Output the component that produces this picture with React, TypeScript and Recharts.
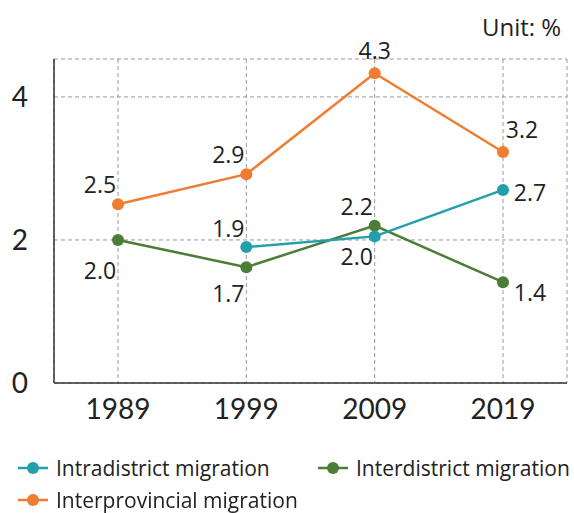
import { LineChart, Line, XAxis, YAxis, CartesianGrid, LabelList } from "recharts";

const years = ["1989", "1999", "2009", "2019"];

// values
const intradistrict = [null, 1.9, 2.05, 2.7];
const interdistrict = [2.0, 1.62, 2.2, 1.41];
const interprovincial = [2.5, 2.92, 4.33, 3.23];

// printed labels
const intraLabels = ["", "1.9", "2.0", "2.7"];
const interLabels = ["2.0", "1.7", "2.2", "1.4"];
const provLabels = ["2.5", "2.9", "4.3", "3.2"];

const yTicks = [0, 2, 4];

const TEAL = "#22a0a9";
const GREEN = "#4c7d36";
const ORANGE = "#ef7d31";
const FONT = "Lato, 'Open Sans', sans-serif";
const TEXT_FONT = "'Open Sans', sans-serif";

const data = years.map((year, i) => ({
  year,
  intra: intradistrict[i],
  inter: interdistrict[i],
  prov: interprovincial[i],
}));

// label offsets relative to each point (text centre)
const intraOffsets = [[0, 0], [-18, -19], [-18, 20], [27, 2]];
const interOffsets = [[-18, 30], [-18, 26], [-18, -20], [27, 10]];
const provOffsets = [[-18, -20], [-18, -20], [0, -23], [19, -23]];

function makeLabel(labels: string[], offsets: number[][]) {
  return (props: any) => {
    const { x, y, index } = props;
    const text = labels[index];
    if (!text) return null;
    const [dx, dy] = offsets[index];
    return (
      <text
        x={x + dx}
        y={y + dy}
        textAnchor="middle"
        dominantBaseline="central"
        fontSize={23}
        fontFamily={TEXT_FONT}
        fill="#222"
      >
        {text}
      </text>
    );
  };
}

function LegendItem({ color, label, left, top }: { color: string; label: string; left: number; top: number }) {
  return (
    <div style={{ position: "absolute", left, top, display: "flex", alignItems: "center", height: 24 }}>
      <svg width={32} height={14} style={{ marginRight: 7 }}>
        <line x1={1} y1={7} x2={31} y2={7} stroke={color} strokeWidth={2.5} />
        <circle cx={16} cy={7} r={6} fill={color} />
      </svg>
      <span style={{ fontFamily: TEXT_FONT, fontSize: 21, color: "#222", whiteSpace: "nowrap", lineHeight: "24px" }}>
        {label}
      </span>
    </div>
  );
}

export default function App() {
  return (
    <div style={{ position: "fixed", left: 0, top: 0, width: 574, height: 513, background: "#fff" }}>
      <div
        style={{
          position: "absolute",
          left: 482,
          top: 12,
          fontFamily: TEXT_FONT,
          fontSize: 24,
          lineHeight: "30px",
          color: "#222",
          whiteSpace: "nowrap",
        }}
      >
        Unit: %
      </div>
      <div style={{ position: "absolute", left: 0, top: 0 }}>
        <LineChart
          width={574}
          height={430}
          data={data}
          margin={{ top: 59, right: 7, left: 0, bottom: 0 }}
        >
          <CartesianGrid stroke="#999" strokeDasharray="4 3" strokeWidth={1} />
          <XAxis
            dataKey="year"
            padding={{ left: 64, right: 64 }}
            axisLine={{ stroke: "#333", strokeWidth: 1.5 }}
            tickLine={false}
            tick={{ fill: "#222", fontSize: 28, fontFamily: FONT }}
            tickMargin={10}
            height={47}
          />
          <YAxis
            domain={[0, 4.53]}
            ticks={yTicks}
            axisLine={{ stroke: "#333", strokeWidth: 1.5 }}
            tickLine={false}
            tick={{ fill: "#222", fontSize: 28, fontFamily: FONT }}
            tickMargin={20}
            width={54}
          />
          <Line
            dataKey="inter"
            stroke={GREEN}
            strokeWidth={2.5}
            dot={{ r: 6, fill: GREEN, stroke: "none" }}
            isAnimationActive={false}
          >
            <LabelList dataKey="inter" content={makeLabel(interLabels, interOffsets)} />
          </Line>
          <Line
            dataKey="intra"
            stroke={TEAL}
            strokeWidth={2.5}
            dot={{ r: 6, fill: TEAL, stroke: "none" }}
            isAnimationActive={false}
          >
            <LabelList dataKey="intra" content={makeLabel(intraLabels, intraOffsets)} />
          </Line>
          <Line
            dataKey="prov"
            stroke={ORANGE}
            strokeWidth={2.5}
            dot={{ r: 6, fill: ORANGE, stroke: "none" }}
            isAnimationActive={false}
          >
            <LabelList dataKey="prov" content={makeLabel(provLabels, provOffsets)} />
          </Line>
        </LineChart>
      </div>
      <LegendItem color={TEAL} label="Intradistrict migration" left={17} top={456} />
      <LegendItem color={GREEN} label="Interdistrict migration" left={317} top={456} />
      <LegendItem color={ORANGE} label="Interprovincial migration" left={17} top={488} />
    </div>
  );
}
